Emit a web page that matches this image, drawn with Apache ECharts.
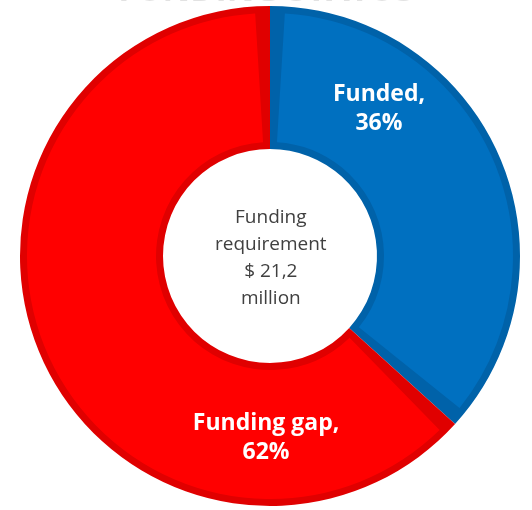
<!DOCTYPE html>
<html>
<head>
<meta charset="utf-8">
<script src="https://cdn.jsdelivr.net/npm/echarts@6/dist/echarts.min.js"></script>
<style>
html,body{margin:0;padding:0;background:#fff;}
#c{width:532px;height:510px;}
</style>
</head>
<body>
<div id="c"></div>
<script>
const categories = ['Funded', 'Funding gap'];
const values = [36, 62];
const centerLines = ['Funding', 'requirement', '$ 21,2', 'million'];
const titleText = 'FUNDING STATUS';

const lightColors = ['#0070C0', '#FF0000'];
const darkColors = ['#0062A9', '#E00000'];
const labelOffsets = [[-57, -74], [162, 108]];

const chart = echarts.init(document.getElementById('c'), null, {renderer: 'canvas'});

const darkData = categories.map((n, i) => ({name: n, value: values[i], itemStyle: {color: darkColors[i]}}));
const lightData = categories.map((n, i) => ({
  name: n, value: values[i],
  itemStyle: {color: lightColors[i]},
  label: {offset: labelOffsets[i]}
}));

chart.setOption({
  animation: false,
  title: {
    text: titleText,
    left: 'center',
    top: -31,
    textStyle: {color: '#e2e2e2', fontSize: 34, fontWeight: 'bold', fontFamily: 'Open Sans'}
  },
  graphic: [{
    type: 'text',
    style: {
      text: centerLines.join('\n'),
      fill: '#404040',
      font: '19px "Open Sans"',
      textAlign: 'center',
      lineHeight: 27
    },
    left: 271 - 56,
    top: 256 - 52
  }],
  series: [
    {
      type: 'pie',
      center: [270, 256],
      radius: [107, 250],
      startAngle: 90,
      clockwise: true,
      silent: true,
      label: {show: false},
      labelLine: {show: false},
      data: darkData
    },
    {
      type: 'pie',
      center: [270, 256],
      radius: [114, 243],
      startAngle: 90,
      clockwise: true,
      padAngle: 7,
      silent: true,
      labelLine: {show: false},
      label: {
        show: true,
        position: 'inside',
        formatter: p => p.name + ',\n' + p.value + '%',
        color: '#ffffff',
        fontFamily: 'Open Sans',
        fontWeight: 'bold',
        fontSize: 23,
        lineHeight: 29,
        align: 'center'
      },
      data: lightData
    }
  ]
});
</script>
</body>
</html>
